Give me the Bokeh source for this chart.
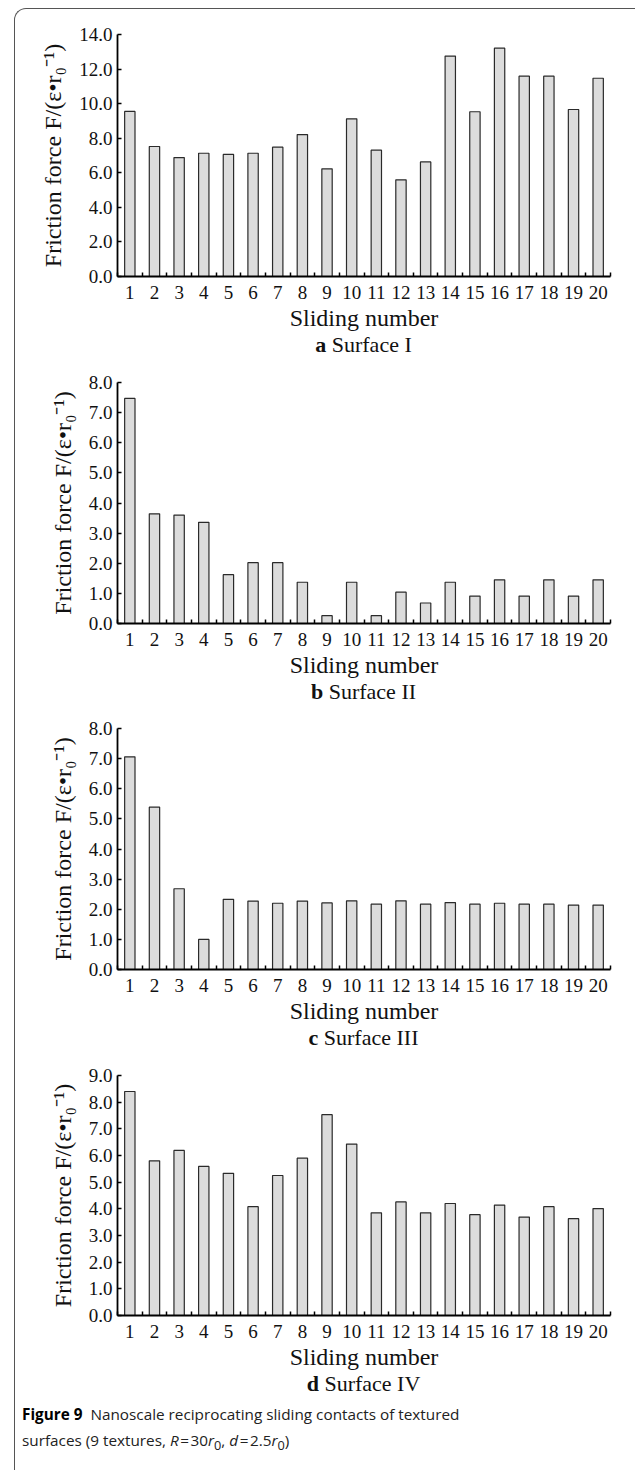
import numpy as np
from bokeh.plotting import figure
from bokeh.models import Range1d, FixedTicker, NumeralTickFormatter, Div, ColumnDataSource
from bokeh.layouts import column
from bokeh.embed import file_html
from bokeh.resources import INLINE

# Friction force per sliding pass, in units of epsilon / r0
sliding = list(range(1, 21))
surface_i = [9.55, 7.52, 6.88, 7.13, 7.06, 7.13, 7.48, 8.21, 6.23, 9.12,
             7.31, 5.59, 6.63, 12.75, 9.53, 13.21, 11.59, 11.59, 9.66, 11.47]
surface_ii = [7.47, 3.64, 3.60, 3.36, 1.62, 2.02, 2.02, 1.37, 0.26, 1.37,
              0.26, 1.04, 0.68, 1.37, 0.91, 1.45, 0.91, 1.45, 0.91, 1.45]
surface_iii = [7.06, 5.39, 2.68, 1.00, 2.33, 2.27, 2.20, 2.27, 2.21, 2.28,
               2.17, 2.28, 2.17, 2.22, 2.17, 2.20, 2.17, 2.17, 2.14, 2.14]
surface_iv = [8.40, 5.80, 6.19, 5.59, 5.33, 4.08, 5.25, 5.90, 7.53, 6.43,
              3.85, 4.26, 3.85, 4.20, 3.78, 4.14, 3.69, 4.08, 3.63, 4.01]

panel_letters = ["a", "b", "c", "d"]
panel_names = ["Surface I", "Surface II", "Surface III", "Surface IV"]
y_max = [14.0, 8.0, 8.0, 9.0]
y_step = [2.0, 1.0, 1.0, 1.0]

x_title = "Sliding number"
y_title = "Friction force F/(\u03b5\u2022r\u2080\u207b\u00b9)"

SERIF = "Liberation Serif"
SANS = "Open Sans"

# (top border, frame height, bottom border) of each panel
geometry = [(25, 242, 57), (25, 241, 57), (24, 241, 57), (25, 240, 57)]
SUB_H = 24
FIG_W = 620
LEFT = 102
RIGHT = 25


def make_panel(idx, values):
    top, frame_h, bottom = geometry[idx]
    ymax, step = y_max[idx], y_step[idx]
    p = figure(width=FIG_W, height=top + frame_h + bottom,
               x_range=Range1d(0.5, 20.5), y_range=Range1d(0, ymax),
               output_backend="svg", toolbar_location=None,
               min_border_left=LEFT, min_border_right=RIGHT,
               min_border_top=top, min_border_bottom=bottom)
    p.outline_line_color = None
    p.grid.visible = False
    p.background_fill_color = "white"
    p.border_fill_color = None

    src = ColumnDataSource(dict(x=sliding, top=values))
    p.vbar(x="x", top="top", bottom=0, width=0.42, source=src,
           fill_color="#dcdcdc", line_color="#2a2a2a", line_width=1.2)

    # x axis: numbers under the bars, small inward ticks between them
    p.xaxis.ticker = FixedTicker(ticks=sliding,
                                 minor_ticks=[s + 0.5 for s in [0] + sliding])
    p.xaxis.major_tick_in = 0
    p.xaxis.major_tick_out = 0
    p.xaxis.minor_tick_in = 4
    p.xaxis.minor_tick_out = 0
    p.xaxis.minor_tick_line_color = "black"
    p.xaxis.minor_tick_line_width = 1.5
    p.xaxis.axis_label = x_title
    p.xaxis.major_label_standoff = 9
    p.xaxis.axis_label_standoff = 3

    yticks = list(np.arange(0, ymax + step / 2, step))
    p.yaxis.ticker = FixedTicker(ticks=yticks, minor_ticks=[])
    p.yaxis.formatter = NumeralTickFormatter(format="0.0")
    p.yaxis.major_tick_in = 4
    p.yaxis.major_tick_out = 0
    p.yaxis.major_label_standoff = 5
    p.yaxis.axis_label = y_title
    p.yaxis.axis_label_standoff = 10

    for ax in (p.xaxis, p.yaxis):
        ax.axis_line_color = "black"
        ax.axis_line_width = 1.8
        ax.major_tick_line_color = "black"
        ax.major_tick_line_width = 1.5
        ax.major_label_text_font = SERIF
        ax.major_label_text_font_size = "19px"
        ax.major_label_text_color = "#111"
        ax.axis_label_text_font = SERIF
        ax.axis_label_text_font_size = "24px"
        ax.axis_label_text_font_style = "normal"
        ax.axis_label_text_color = "#111"
    return p


def make_subtitle(idx):
    # bold panel letter followed by the surface name, centred under the frame
    frame_w = FIG_W - LEFT - RIGHT
    return Div(text=f"<b>{panel_letters[idx]}</b> {panel_names[idx]}",
               width=frame_w, height=SUB_H, margin=(0, 0, 0, LEFT),
               styles={"font-family": SERIF, "font-size": "22px",
                       "line-height": f"{SUB_H}px", "text-align": "center",
                       "color": "#111", "white-space": "nowrap"})


series = [surface_i, surface_ii, surface_iii, surface_iv]
items = []
for i, s in enumerate(series):
    items.append(make_panel(i, s))
    items.append(make_subtitle(i))

caption = Div(
    text=('<b style="color:#000">Figure 9</b>&nbsp; Nanoscale reciprocating sliding contacts of textured<br>'
          'surfaces (9 textures, <i>R</i>&#8202;=&#8202;30<i>r</i><sub style="line-height:0">0</sub>, '
          '<i>d</i>&#8202;=&#8202;2.5<i>r</i><sub style="line-height:0">0</sub>)'),
    width=610, height=72,
    styles={"font-family": SANS, "font-size": "15.3px", "line-height": "26px",
            "color": "#222", "padding-left": "2px"})
items.append(caption)

page = column(*items, spacing=0, margin=(8, 0, 0, 14),
              styles={"border-left": "1.5px solid #555",
                      "border-top": "1.5px solid #555",
                      "border-top-left-radius": "12px",
                      "background": "white"})

open("out.html", "w").write(file_html(page, INLINE))
